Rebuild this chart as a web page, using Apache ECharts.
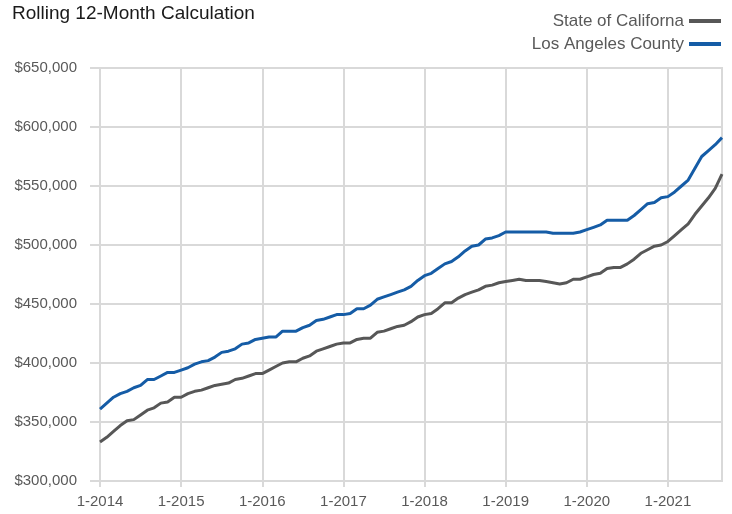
<!DOCTYPE html>
<html>
<head>
<meta charset="utf-8">
<script src="https://cdn.jsdelivr.net/npm/echarts@6/dist/echarts.min.js"></script>
<style>
html,body{margin:0;padding:0;background:#fff;}
#chart{width:732px;height:514px;}
</style>
</head>
<body>
<div id="chart"></div>
<script>
// ---- data ----
const startYear = 2014;
const monthCount = 93; // Jan 2014 .. Sep 2021
const categories = [];
for (let i = 0; i < monthCount; i++) {
  categories.push(((i % 12) + 1) + '-' + (startYear + Math.floor(i / 12)));
}
const seriesNames = ['State of Californa', 'Los Angeles County'];
// values in $ thousands
const californiaValues = [
  333,337,342,347,351,352,356,360,362,366,367,371,
  371,374,376,377,379,381,382,383,386,387,389,391,
  391,394,397,400,401,401,404,406,410,412,414,416,
  417,417,420,421,421,426,427,429,431,432,435,439,
  441,442,446,451,451,455,458,460,462,465,466,468,
  469,470,471,470,470,470,469,468,467,468,471,471,
  473,475,476,480,481,481,484,488,493,496,499,500,
  503,508,513,518,526,533,540,548,560
];
const laCountyValues = [
  361,366,371,374,376,379,381,386,386,389,392,392,
  394,396,399,401,402,405,409,410,412,416,417,420,
  421,422,422,427,427,427,430,432,436,437,439,441,
  441,442,446,446,449,454,456,458,460,462,465,470,
  474,476,480,484,486,490,495,499,500,505,506,508,
  511,511,511,511,511,511,511,510,510,510,510,511,
  513,515,517,521,521,521,521,525,530,535,536,540,
  541,545,550,555,565,575,580,585,591
];
const yMin = 300000, yMax = 650000, yStep = 50000;

// ---- chart ----
const chart = echarts.init(document.getElementById('chart'), null, {renderer: 'canvas'});
const gridColor = '#d9d9d9';
const textColor = '#595959';
const font = 'Liberation Sans, Arial, sans-serif';
chart.setOption({
  animation: false,
  backgroundColor: '#fff',
  title: {
    text: 'Rolling 12-Month Calculation',
    left: 7, top: -1,
    textStyle: {fontFamily: font, fontSize: 19, fontWeight: 'normal', color: '#1a1a1a'}
  },
  legend: {
    orient: 'vertical',
    right: 6, top: 6,
    align: 'right',
    itemWidth: 32, itemHeight: 4,
    itemGap: 3,
    icon: 'rect',
    textStyle: {fontFamily: font, fontSize: 17, color: textColor, lineHeight: 20},
    data: seriesNames
  },
  grid: {
    left: 100, right: 10, top: 68, bottom: 33,
    show: true, borderColor: gridColor, borderWidth: 2, containLabel: false
  },
  xAxis: {
    type: 'category',
    boundaryGap: false,
    data: categories,
    axisLine: {show: true, lineStyle: {color: gridColor, width: 2}},
    axisTick: {show: true, interval: 11, length: 6, lineStyle: {color: gridColor, width: 2}},
    axisLabel: {interval: 11, margin: 13, fontFamily: font, fontSize: 15, color: textColor},
    splitLine: {show: true, interval: 11, lineStyle: {color: gridColor, width: 2}}
  },
  yAxis: {
    type: 'value',
    min: yMin, max: yMax, interval: yStep,
    axisLine: {show: false},
    axisTick: {show: true, length: 10, lineStyle: {color: gridColor, width: 2}},
    axisLabel: {
      margin: 23, fontFamily: font, fontSize: 15, color: textColor,
      formatter: v => '$' + v.toLocaleString('en-US')
    },
    splitLine: {show: true, lineStyle: {color: gridColor, width: 2}}
  },
  series: [
    {
      name: seriesNames[0], type: 'line', showSymbol: false,
      data: californiaValues.map(v => v * 1000),
      lineStyle: {color: '#575757', width: 3},
      itemStyle: {color: '#575757'}
    },
    {
      name: seriesNames[1], type: 'line', showSymbol: false,
      data: laCountyValues.map(v => v * 1000),
      lineStyle: {color: '#155ca6', width: 3},
      itemStyle: {color: '#155ca6'}
    }
  ]
});
</script>
</body>
</html>
